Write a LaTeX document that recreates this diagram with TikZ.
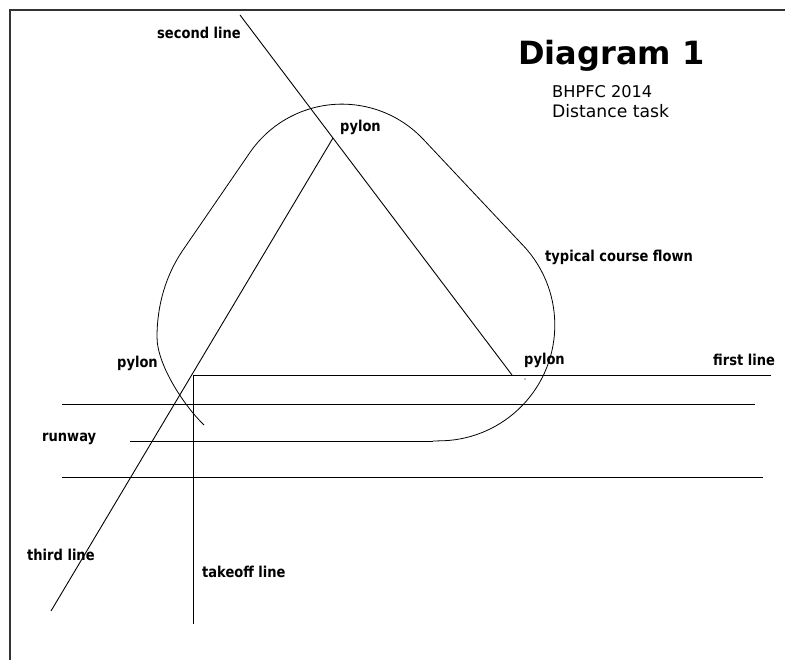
\documentclass[tikz,border=0pt]{standalone}
\usepackage{fontspec}
\setmainfont{DejaVu Sans}
\newfontfamily\lblfont[FakeStretch=0.87]{DejaVu Sans}
\begin{document}
\begin{tikzpicture}[x=1pt,y=-1pt,
  thinline/.style={draw=black,line width=0.9pt},
  frameline/.style={draw=black!80,line width=1.6pt},
  lbl/.style={inner sep=0pt,anchor=base west,font=\lblfont\bfseries\fontsize{15}{17}\selectfont},
  course/.style={draw=black,line width=0.8pt}]
\useasboundingbox (0,0) rectangle (785,660);
% frame
\coordinate (fr1) at (10,660);
\coordinate (fr2) at (10,10);
\coordinate (fr3) at (785,10);
\draw[frameline] (fr1) -- (fr2) -- (fr3);
% line end points
\coordinate (sA) at (240,15);
\coordinate (sB) at (512,375);
\coordinate (tA) at (51,611);
\coordinate (tB) at (333,138);
\coordinate (fA) at (193,375);
\coordinate (fB) at (771,375);
\coordinate (kB) at (193,624);
\coordinate (r1a) at (62,404);
\coordinate (r1b) at (755,404);
\coordinate (r2a) at (130,441);
\coordinate (r2b) at (433,441);
\coordinate (r3a) at (62,477);
\coordinate (r3b) at (763,477);
% lines
\draw[thinline] (sA) -- (sB);
\draw[thinline] (tA) -- (tB);
\draw[thinline] (fA) -- (fB);
\draw[thinline] (fA) -- (kB);
\draw[thinline] (r1a) -- (r1b);
\draw[thinline] (r2a) -- (r2b);
\draw[thinline] (r3a) -- (r3b);
% course flown
\draw[course] (204,425) .. controls (184,405.7) and (157,364.8) .. (157,337)
  .. controls (157,306) and (165.5,275.5) .. (183,250)
  -- (250,152.4) arc[start angle=-145.4, end angle=-42.9, radius=111.7]
  -- (523.9,246.3) arc[start angle=-42.85, end angle=90, radius=115.8]
  -- (433,441.1);
\fill (525,379) circle (0.6);
% texts
\node[inner sep=0pt,anchor=base west,font=\bfseries\fontsize{32}{36}\selectfont] (title) at (518,65) {Diagram 1};
\node[inner sep=0pt,anchor=base west,font=\fontsize{16.2}{18}\selectfont] (club) at (552,98) {BHPFC 2014};
\node[inner sep=0pt,anchor=base west,font=\fontsize{17.2}{19}\selectfont] (task) at (552,118) {Distance task};
\node[lbl] (lsecond) at (157,39) {second line};
\node[lbl] (ptop) at (340,132) {pylon};
\node[lbl] (pleft) at (117,368) {pylon};
\node[lbl] (pright) at (524,365) {pylon};
\node[lbl] (lfirst) at (713,366) {first line};
\node[lbl] (lcourse) at (545,262) {typical course flown};
\node[lbl] (lrunway) at (42,442) {runway};
\node[lbl] (lthird) at (27,560) {third line};
\node[lbl] (ltakeoff) at (202,577) {takeoff line};
\end{tikzpicture}
\end{document}
